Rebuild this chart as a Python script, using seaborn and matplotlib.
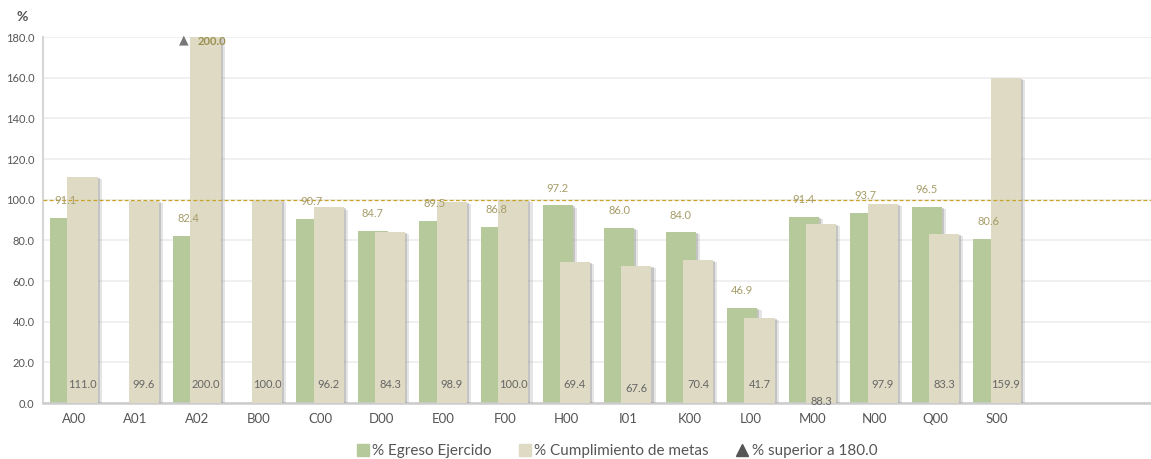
import numpy as np
import pandas as pd
import matplotlib
matplotlib.use("Agg")
import matplotlib.pyplot as plt
import matplotlib.patheffects as pe
from matplotlib.patches import Patch
from matplotlib.lines import Line2D
import seaborn as sns

categories = ["A00", "A01", "A02", "B00", "C00", "D00", "E00", "F00",
              "H00", "I01", "K00", "L00", "M00", "N00", "Q00", "S00"]
egreso = [91.1, np.nan, 82.4, np.nan, 90.7, 84.7, 89.5, 86.8,
          97.2, 86.0, 84.0, 46.9, 91.4, 93.7, 96.5, 80.6]
cumplimiento = [111.0, 99.6, 200.0, 100.0, 96.2, 84.3, 98.9, 100.0,
                69.4, 67.6, 70.4, 41.7, 88.3, 97.9, 83.3, 159.9]
y_cap = 180.0
meta = 100.0

green = "#b6c99b"
beige = "#dedac3"
olive = "#a69c68"
gray_txt = "#666666"

sns.set_theme(style="white")
plt.rcParams["font.family"] = ["Lato", "DejaVu Sans"]

df = pd.DataFrame({"cat": categories, "egreso": egreso, "cumplimiento": cumplimiento})
df["pos"] = np.arange(len(df))
df["cump_plot"] = df["cumplimiento"].clip(upper=y_cap)

fig = plt.figure(figsize=(11.51, 4.59), dpi=100)
ax = fig.add_axes([0.0374, 0.122, 0.9626, 0.797])

off = 0.14
w = 0.49
shadow = [pe.SimplePatchShadow(offset=(3, -1.5), shadow_rgbFace="#999999", alpha=0.25),
          pe.SimplePatchShadow(offset=(1.5, -0.7), shadow_rgbFace="#888888", alpha=0.35),
          pe.Normal()]

g = df.dropna(subset=["egreso"])
sns.barplot(x=g["pos"] - off, y=g["egreso"], native_scale=True, width=w,
            color=green, saturation=1, ax=ax, zorder=2)
n_green = len(ax.patches)
sns.barplot(x=df["pos"] + off, y=df["cump_plot"], native_scale=True, width=w,
            color=beige, saturation=1, ax=ax, zorder=3)
for p in ax.patches:
    p.set_path_effects(shadow)
    p.set_edgecolor("none")
for p in ax.patches[n_green:]:
    p.set_zorder(3)

ax.axhline(meta, color="#c9a227", lw=0.9, ls=(0, (3, 2)), zorder=4)

# labels
for _, r in g.iterrows():
    ax.text(r["pos"] - off, r["egreso"] + 8.5, f"{r['egreso']:.1f}", ha="center",
            va="center", fontsize=8, color=olive, zorder=5)
label_y = {"I01": 7.0, "M00": 0.5}
for _, r in df.iterrows():
    ax.text(r["pos"] + off, label_y.get(r["cat"], 9.0), f"{r['cumplimiento']:.1f}",
            ha="center", va="center", fontsize=8, color=gray_txt, zorder=5)
    if r["cumplimiento"] > y_cap:
        ax.text(r["pos"] - 0.22, y_cap - 1.5, "\u25b2", ha="center", va="center",
                fontsize=9, color="#777777", zorder=6, family=["DejaVu Sans"])
        ax.text(r["pos"] + off + 0.1, y_cap - 2, f"{r['cumplimiento']:.1f}", ha="center",
                va="center", fontsize=8, color="#9a8f50", fontweight="bold", zorder=6)

ax.set_xlim(-0.5, 17.5)
ax.set_ylim(0, y_cap)
ax.set_xticks(df["pos"])
ax.set_xticklabels(categories)
ax.set_yticks(np.arange(0, 181, 20))
ax.set_yticklabels([f"{v:.1f}" for v in np.arange(0, 181, 20)])
ax.set_xlabel("")
ax.set_ylabel("")
ax.tick_params(axis="x", labelsize=9.5, colors="#555555", length=0, pad=7)
ax.tick_params(axis="y", labelsize=8, colors="#555555", length=3, width=0.8, pad=3)
ax.yaxis.grid(True, color="#eeeeee", lw=1.2, zorder=0)
ax.set_axisbelow(True)
for s in ["top", "right"]:
    ax.spines[s].set_visible(False)
ax.spines["left"].set_color("#d6d6d6")
ax.spines["left"].set_linewidth(1.5)
ax.spines["bottom"].set_color("#cccccc")
ax.spines["bottom"].set_linewidth(1.8)

fig.text(0.019, 0.963, "%", fontsize=10, fontweight="bold", color="#555555",
         ha="center", va="center")

handles = [Patch(color=green), Patch(color=beige),
           Line2D([], [], marker="^", color="#555555", ls="none", markersize=8)]
labels = ["% Egreso Ejercido", "% Cumplimiento de metas", "% superior a 180.0"]
fig.legend(handles, labels, loc="center", bbox_to_anchor=(0.536, 0.017), ncol=3,
           frameon=False, fontsize=11, labelcolor="#555555", handlelength=0.8,
           handleheight=0.8, handletextpad=0.2, columnspacing=1.8)

fig.savefig("out.png", dpi=100)
